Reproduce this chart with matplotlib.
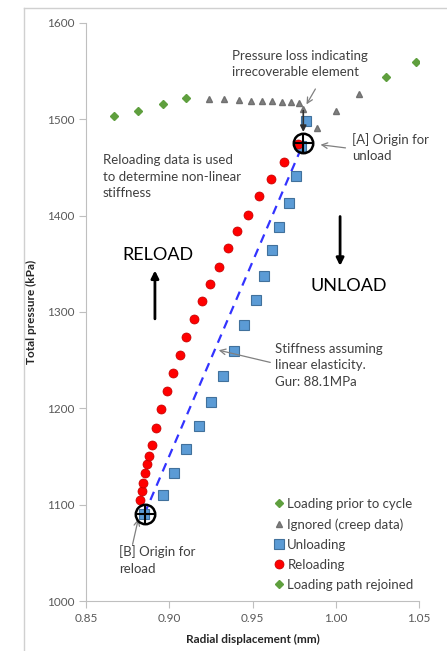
import numpy as np
import matplotlib
matplotlib.use("Agg")
import matplotlib.pyplot as plt
from matplotlib.lines import Line2D

plt.rcParams['font.family'] = ['Lato', 'DejaVu Sans']

# loading prior to cycle
prior_x = [0.867, 0.881, 0.896, 0.910]
prior_y = [1503, 1509, 1516, 1522]

# ignored (creep data)
creep_x = [0.924, 0.933, 0.942, 0.949, 0.956, 0.962, 0.968, 0.973, 0.978, 0.9805, 0.989, 1.000, 1.014]
creep_y = [1521, 1521, 1520, 1519, 1519, 1519, 1518, 1518, 1517, 1511, 1491, 1509, 1526]

# unloading
unload_x = [0.982, 0.979, 0.976, 0.972, 0.966, 0.962, 0.957, 0.952, 0.945, 0.939, 0.932,
            0.925, 0.918, 0.910, 0.903, 0.896, 0.885]
unload_y = [1498, 1472, 1441, 1413, 1388, 1364, 1337, 1312, 1287, 1260, 1234,
            1207, 1182, 1158, 1133, 1110, 1090]

# reloading
reload_x = [0.8824, 0.8834, 0.8844, 0.8856, 0.8868, 0.8878, 0.8896, 0.8919, 0.8950, 0.8986,
            0.9024, 0.9063, 0.9102, 0.9147, 0.9195, 0.9245, 0.9297, 0.9351, 0.9409, 0.9471,
            0.9537, 0.9609, 0.9691, 0.9775]
reload_y = [1105, 1114, 1123, 1133, 1142, 1151, 1162, 1180, 1199, 1218,
            1237, 1255, 1274, 1293, 1311, 1329, 1347, 1366, 1384, 1401,
            1420, 1438, 1456, 1474]

# loading path rejoined
rejoin_x = [1.030, 1.048]
rejoin_y = [1544, 1560]

# linear stiffness line (B -> A)
lin_x = [0.885, 0.9805]
lin_y = [1090, 1475]

# origins
origin_x = [0.9805, 0.8854]
origin_y = [1475, 1090]

fig = plt.figure(figsize=(4.47, 6.51), dpi=100)
ax = fig.add_axes([86 / 447, 1 - 601 / 651, 333 / 447, 578 / 651])

green = '#5f9f3e'
ax.plot(prior_x, prior_y, 'D', ms=3.8, color=green, mec=green, label='Loading prior to cycle', zorder=3)
ax.plot(creep_x, creep_y, '^', ms=4, color='#808080', mec='#707070', label='Ignored (creep data)', zorder=3)
ax.plot(unload_x, unload_y, 's', ms=6.5, color='#5b9bd5', mec='#41719c', mew=0.8, label='Unloading', zorder=3)
ax.plot(reload_x, reload_y, 'o', ms=6.5, color='#ff0000', mec='#c00000', mew=0.5, label='Reloading', zorder=4)
ax.plot(rejoin_x, rejoin_y, 'D', ms=3.8, color=green, mec=green, label='Loading path rejoined', zorder=3)

ax.plot(lin_x, lin_y, '--', color='#3333ff', lw=1.6, dashes=(4, 3), zorder=2)

# origin crosshairs
ax.plot(origin_x, origin_y, 'o', ms=14, mfc='none', mec='black', mew=1.8, zorder=6)
ax.plot(origin_x, origin_y, '+', ms=14, mec='black', mew=1.5, zorder=6)

ax.set_xlim(0.85, 1.05)
ax.set_ylim(1000, 1600)
ax.set_xticks(np.arange(0.85, 1.051, 0.05))
ax.set_xticklabels(['0.85', '0.90', '0.95', '1.00', '1.05'])
ax.set_yticks(np.arange(1000, 1601, 100))

for s in ['top', 'right']:
    ax.spines[s].set_visible(False)
for s in ['left', 'bottom']:
    ax.spines[s].set_color('#bfbfbf')
ax.tick_params(colors='#bfbfbf', labelcolor='#595959', labelsize=8.5, length=5, width=0.8)

ax.set_xlabel('Radial displacement (mm)', fontsize=8.5, fontweight='bold', color='#262626', labelpad=7)
ax.set_ylabel('Total pressure (kPa)', fontsize=8.5, fontweight='bold', color='#262626', labelpad=7)

txt = dict(fontsize=9.5, color='#404040', ha='left', va='top', linespacing=1.45)
gray_arrow = dict(arrowstyle='->', color='#808080', lw=0.9)

ax.text(0.9377, 1572, 'Pressure loss indicating\nirrecoverable element', **txt)
ax.annotate('', xy=(0.9816, 1513), xytext=(0.9886, 1534), arrowprops=gray_arrow)
ax.annotate('', xy=(0.9805, 1484), xytext=(0.9805, 1512),
            arrowprops=dict(arrowstyle='-|>', color='#303030', lw=1.2, mutation_scale=9))

ax.text(1.0098, 1486, '[A] Origin for\nunload', **txt)
ax.annotate('', xy=(0.9892, 1474), xytext=(1.0075, 1470), arrowprops=gray_arrow)

ax.text(0.860, 1464, 'Reloading data is used\nto determine non-linear\nstiffness', **txt)

ax.text(0.8932, 1359, 'RELOAD', fontsize=13, color='black', ha='center', va='center')
ax.annotate('', xy=(0.8914, 1346), xytext=(0.8914, 1290),
            arrowprops=dict(arrowstyle='-|>', color='black', lw=2, mutation_scale=11))
ax.text(1.008, 1327, 'UNLOAD', fontsize=13, color='black', ha='center', va='center')
ax.annotate('', xy=(1.0026, 1345), xytext=(1.0026, 1402),
            arrowprops=dict(arrowstyle='-|>', color='black', lw=2, mutation_scale=11))

ax.text(0.9635, 1268, 'Stiffness assuming\nlinear elasticity.\nGur: 88.1MPa', **txt)
ax.annotate('', xy=(0.9281, 1261), xytext=(0.9623, 1247), arrowprops=gray_arrow)

ax.text(0.8698, 1058, '[B] Origin for\nreload', **txt)
ax.annotate('', xy=(0.8818, 1088), xytext=(0.8776, 1056), arrowprops=gray_arrow)

leg = ax.legend(loc='upper left', bbox_to_anchor=(0.545, 0.19), frameon=False, fontsize=9.5,
                handlelength=0.8, handletextpad=0.2, labelspacing=0.62, borderpad=0, labelcolor='#404040')

# chart area border (top and left edges visible)
fig.add_artist(Line2D([24 / 447, 24 / 447], [0, 1 - 8 / 651], color='#d0d0d0', lw=1))
fig.add_artist(Line2D([24 / 447, 1], [1 - 8 / 651, 1 - 8 / 651], color='#d0d0d0', lw=1))

fig.savefig('out.png', dpi=100)
